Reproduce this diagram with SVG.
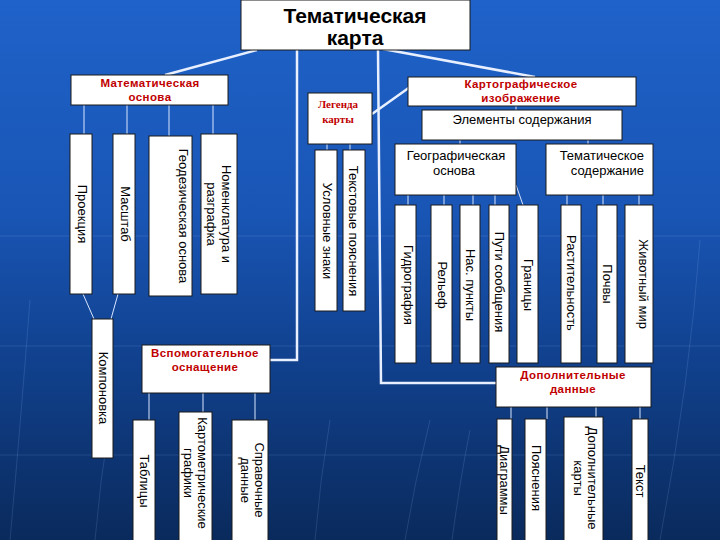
<svg xmlns="http://www.w3.org/2000/svg" width="720" height="540" viewBox="0 0 720 540">
<defs>
<linearGradient id="bg" x1="0" y1="0" x2="0" y2="1">
<stop offset="0" stop-color="#1f62c9"/>
<stop offset="0.4" stop-color="#1955b4"/>
<stop offset="0.65" stop-color="#114290"/>
<stop offset="1" stop-color="#0a2a5c"/>
</linearGradient>
<style>
.box{fill:#ffffff;stroke:#1a1a1a;stroke-width:1}
.main{fill:none;stroke:#e8f0ff;stroke-width:2.5}
.thin{fill:none;stroke:#d8e6ff;stroke-width:1}
.deco{fill:none;stroke:#9cc0ff;stroke-width:1;opacity:0.16}
.title{font-family:"Liberation Sans",Arial,sans-serif;font-weight:bold;font-size:21px;fill:#000;text-anchor:middle}
.red{font-family:"Liberation Sans",Arial,sans-serif;font-weight:bold;font-size:11.5px;letter-spacing:0.4px;fill:#c00000;text-anchor:middle}
.leg{font-family:"Liberation Serif","Times New Roman",serif;font-weight:bold;font-size:11px;fill:#c00000;text-anchor:middle}
.lbl{font-family:"Liberation Sans",Arial,sans-serif;font-size:13px;fill:#000;text-anchor:middle}
.col{font-family:"Liberation Sans",Arial,sans-serif;font-size:13px;fill:#000;text-anchor:middle;dominant-baseline:central}
</style>
</defs>
<rect width="720" height="540" fill="url(#bg)"/>
<g id="background-lines">
<path class="deco" d="M0 236 H720"/>
<path class="deco" d="M0 346 H720"/>
<path class="deco" d="M0 455 H720"/>
<path class="deco" d="M700 240 Q690 380 660 540"/>
<path class="deco" d="M30 300 Q20 430 10 540"/>
<path class="deco" d="M110 420 Q100 480 95 540"/>
<path class="deco" d="M330 420 Q320 480 315 540"/>
<path class="deco" d="M430 420 Q415 480 405 540"/>
<path class="deco" d="M470 430 Q460 480 452 540"/>
</g>

<g id="connectors">
<path class="main" d="M257 50 L165 75"/>
<path class="main" d="M383 49 L535 77"/>
<path class="main" d="M297 50 V360 H270"/>
<path class="main" d="M378 50 L381 383 H496"/>
<path class="main" d="M372 114 L410 87"/>
<path class="thin" d="M84 105 V134 M127 105 V134 M169 105 V136 M213 105 V134"/>
<path class="thin" d="M327 144 V150 M350 144 V150"/>
<path class="thin" d="M516 106 V110 M460 140 V144 M588 140 V144"/>
<path class="thin" d="M408 195 V205 M444 195 V205 M473 195 V205 M495 195 V205 M516 185 L523 205"/>
<path class="thin" d="M567 195 V205 M603 195 V205 M639 195 V205"/>
<path class="thin" d="M83 294 L94 319 M118 294 L111 319"/>
<path class="thin" d="M149 393 V420 M203 393 V412 M255 393 V420"/>
<path class="thin" d="M511 407 V419 M547 407 V419 M596 407 V417 M640 407 V419"/>
</g>

<g id="title">
<rect class="box" x="241" y="0" width="229" height="50"/>
<text class="title" x="355" y="23">Тематическая</text>
<text class="title" x="355" y="45">карта</text>
</g>

<g id="math">
<rect class="box" x="71" y="75" width="157" height="30"/>
<text class="red" x="150" y="87">Математическая</text>
<text class="red" x="150" y="101">основа</text>
</g>

<g id="legend">
<rect class="box" x="308" y="93" width="64" height="51"/>
<text class="leg" x="338" y="108">Легенда</text>
<text class="leg" x="338" y="123">карты</text>
</g>

<g id="karto">
<rect class="box" x="408" y="77" width="228" height="29"/>
<text class="red" x="521" y="88">Картографическое</text>
<text class="red" x="521" y="102">изображение</text>
</g>

<g id="elements">
<rect class="box" x="422" y="110" width="200" height="30"/>
<text class="lbl" x="522" y="124">Элементы содержания</text>
</g>

<g id="geo">
<rect class="box" x="395" y="144" width="121" height="51"/>
<text class="lbl" x="456" y="160">Географическая</text>
<text class="lbl" x="454" y="175">основа</text>
</g>

<g id="tem">
<rect class="box" x="546" y="144" width="107" height="51"/>
<text class="lbl" x="644" y="160" style="text-anchor:end">Тематическое</text>
<text class="lbl" x="644" y="175" style="text-anchor:end">содержание</text>
</g>

<g id="proekciya">
<rect class="box" x="70" y="134" width="22" height="160"/>
<text class="col" transform="translate(82 214) rotate(90)">Проекция</text>
</g>
<g id="masshtab">
<rect class="box" x="113" y="134" width="22" height="160"/>
<text class="col" transform="translate(125 214) rotate(90)">Масштаб</text>
</g>
<g id="geodez">
<rect class="box" x="149" y="136" width="43" height="160"/>
<text class="col" transform="translate(183 216) rotate(90)">Геодезическая основа</text>
</g>
<g id="nomenklatura">
<rect class="box" x="201" y="134" width="36" height="160"/>
<text class="col" transform="translate(219 214) rotate(90)"><tspan x="0" y="-7.5">Номенклатура и</tspan><tspan x="0" y="7.5">разграфка</tspan></text>
</g>

<g id="uslovnye">
<rect class="box" x="315" y="150" width="22" height="161"/>
<text class="col" transform="translate(327 231) rotate(90)">Условные знаки</text>
</g>
<g id="tekstovye">
<rect class="box" x="343" y="150" width="22" height="161"/>
<text class="col" transform="translate(353 231) rotate(90)">Текстовые пояснения</text>
</g>

<g id="gidrografiya">
<rect class="box" x="395" y="205" width="21" height="158"/>
<text class="col" transform="translate(408 285) rotate(90)">Гидрография</text>
</g>
<g id="relef">
<rect class="box" x="431" y="205" width="21" height="158"/>
<text class="col" transform="translate(442 285) rotate(90)">Рельеф</text>
</g>
<g id="punkty">
<rect class="box" x="460" y="205" width="20" height="158"/>
<text class="col" transform="translate(470 285) rotate(90)">Нас. пункты</text>
</g>
<g id="puti">
<rect class="box" x="489" y="205" width="20" height="158"/>
<text class="col" transform="translate(499 282) rotate(90)">Пути сообщения</text>
</g>
<g id="granicy">
<rect class="box" x="517" y="205" width="21" height="158"/>
<text class="col" transform="translate(528 285) rotate(90)">Границы</text>
</g>
<g id="rastitelnost">
<rect class="box" x="561" y="205" width="20" height="158"/>
<text class="col" transform="translate(571 283) rotate(90)">Растительность</text>
</g>
<g id="pochvy">
<rect class="box" x="597" y="205" width="20" height="158"/>
<text class="col" transform="translate(607 284) rotate(90)">Почвы</text>
</g>
<g id="zhivotnyi">
<rect class="box" x="625" y="205" width="28" height="158"/>
<text class="col" transform="translate(643 284) rotate(90)">Животный мир</text>
</g>

<g id="kompanovka">
<rect class="box" x="92" y="319" width="21" height="139"/>
<text class="col" transform="translate(103 388) rotate(90)">Компоновка</text>
</g>

<g id="vspomogatelnoe">
<rect class="box" x="142" y="345" width="128" height="48"/>
<text class="red" x="205" y="357">Вспомогательное</text>
<text class="red" x="205" y="371">оснащение</text>
</g>
<g id="tablicy">
<rect class="box" x="133" y="420" width="22" height="130"/>
<text class="col" transform="translate(144 481) rotate(90)">Таблицы</text>
</g>
<g id="kartometr">
<rect class="box" x="179" y="412" width="33" height="138"/>
<text class="col" transform="translate(196 473) rotate(90)"><tspan x="0" y="-7">Картометрические</tspan><tspan x="0" y="7">графики</tspan></text>
</g>
<g id="spravochnye">
<rect class="box" x="232" y="420" width="36" height="130"/>
<text class="col" transform="translate(253 480) rotate(90)"><tspan x="0" y="-7">Справочные</tspan><tspan x="0" y="7">данные</tspan></text>
</g>

<g id="dopolnitelnye">
<rect class="box" x="496" y="367" width="155" height="40"/>
<text class="red" x="573" y="379">Дополнительные</text>
<text class="red" x="573" y="393">данные</text>
</g>
<g id="diagrammy">
<rect class="box" x="497" y="419" width="15" height="131"/>
<text class="col" transform="translate(504 480) rotate(90)">Диаграммы</text>
</g>
<g id="poyasneniya">
<rect class="box" x="525" y="419" width="21" height="131"/>
<text class="col" transform="translate(536 478) rotate(90)">Пояснения</text>
</g>
<g id="dopkarty">
<rect class="box" x="564" y="417" width="39" height="133"/>
<text class="col" transform="translate(586 478) rotate(90)"><tspan x="0" y="-7">Дополнительные</tspan><tspan x="0" y="7">карты</tspan></text>
</g>
<g id="tekst">
<rect class="box" x="632" y="419" width="16" height="131"/>
<text class="col" transform="translate(640 481) rotate(90)">Текст</text>
</g>
</svg>
